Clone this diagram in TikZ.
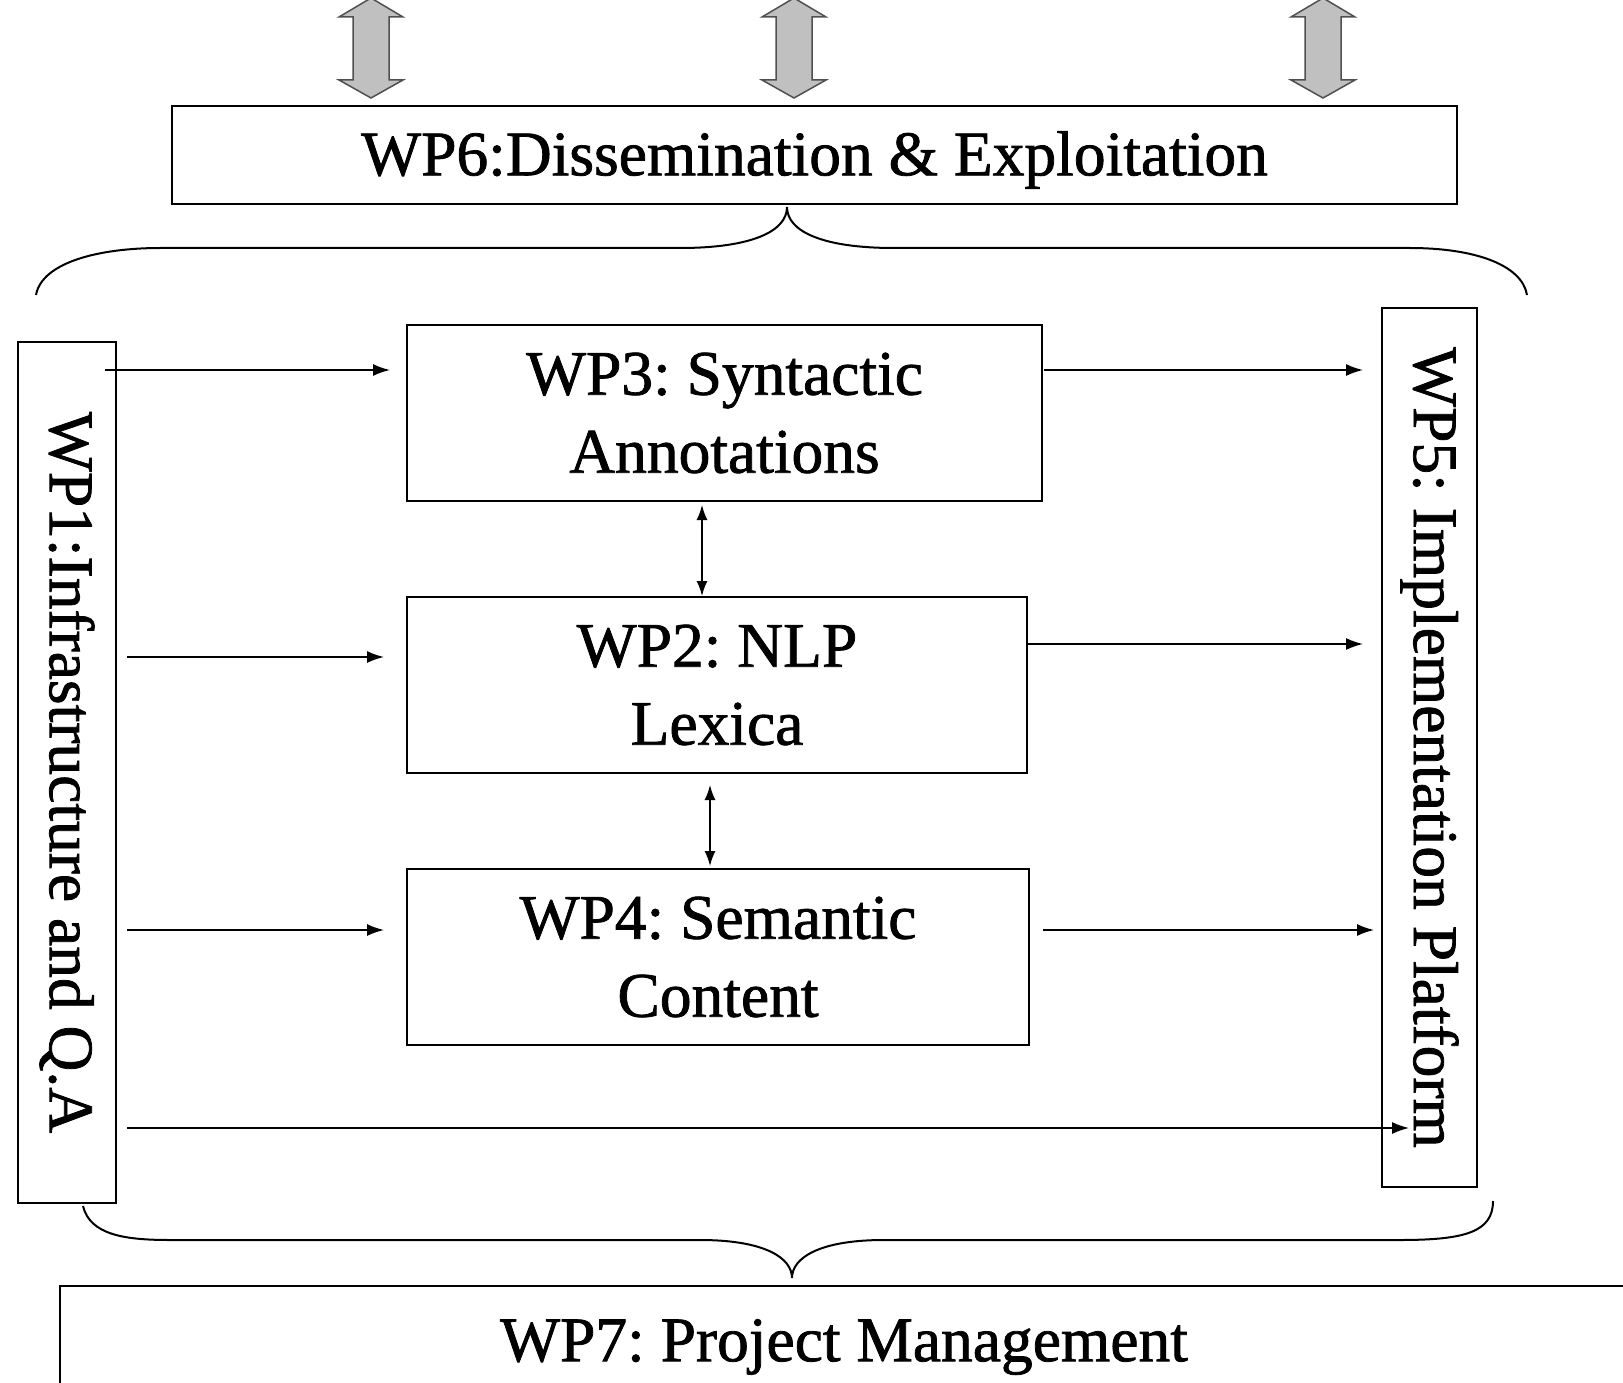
\documentclass[tikz,border=0pt]{standalone}
\usepackage{fontspec}
\setmainfont{Liberation Serif}
\newfontfamily\wpFace[FakeBold=1.2]{Liberation Serif}
\usetikzlibrary{arrows.meta}

\definecolor{arrowFill}{RGB}{192,192,192}
\definecolor{arrowEdge}{RGB}{80,80,80}

\newcommand{\boxThick }{2pt}
\newcommand{\linThick }{1.6pt}
\newcommand{\wpFont }{\wpFace\fontsize{63.5}{78}\selectfont\frenchspacing}

% Grey double arrow above WP6:
\newcommand{\dblArrow}[1]{%
  \draw[line width=1.5pt, arrowEdge, fill=arrowFill, line join=miter]
    (#1, -2) -- (#1+32, 17) -- (#1+18, 17) -- (#1+18, 80) -- (#1+32, 80)
    -- (#1, 98) -- (#1-32, 80) -- (#1-18, 80) -- (#1-18, 17) -- (#1-32, 17) -- cycle;}

\tikzset{
  wpbox/.style={draw, line width=\boxThick, inner sep=0pt, align=center, font=\wpFont},
  arr/.style={-{Latex[length=17pt,width=12pt]}, line width=\linThick},
  dblarr/.style={{Latex[length=15pt,width=11pt]}-{Latex[length=15pt,width=11pt]}, line width=\linThick},
  brace/.style={line width=\boxThick}
}

\begin{document}
\begin{tikzpicture}[x=1pt, y=-1pt]

  \useasboundingbox (0,0) rectangle (1623,1383);
  \clip (0,0) rectangle (1623,1383);
  \fill[white] (0,0) rectangle (1623,1383);

  % Top arrows:
  \dblArrow{371}
  \dblArrow{794}
  \dblArrow{1323}

  % Work packages:
  \node[wpbox, minimum width=1285pt, minimum height=98pt] (wp6) at (814.5, 155) {\raisebox{-5pt}[\height][\depth]{WP6:Dissemination \& Exploitation}};
  \node[wpbox, minimum width=635pt, minimum height=176pt] (wp3) at (724.5, 413) {WP3: Syntactic\\Annotations};
  \node[wpbox, minimum width=620pt, minimum height=176pt] (wp2) at (717, 685) {WP2: NLP\\Lexica};
  \node[wpbox, minimum width=622pt, minimum height=176pt] (wp4) at (718, 957) {WP4: Semantic\\Content};
  % (rotated: north is the right side, south the left side)
  \node[wpbox, rotate=-90, minimum width=861pt, minimum height=98pt] (wp1) at (67, 772.5) {WP1:Infrastructure and Q.A};
  \node[wpbox, rotate=-90, minimum width=879pt, minimum height=95pt] (wp5) at (1429.5, 747.5) {WP5: Implementation Platform};
  \node[wpbox, minimum width=1568pt, minimum height=122pt] (wp7) at (844, 1347) {WP7: Project Management};

  % Rows and columns:
  \coordinate (r1) at (0, 370);
  \coordinate (r2) at (0, 657);
  \coordinate (r2b) at (0, 644);
  \coordinate (r3) at (0, 930);
  \coordinate (r4) at (0, 1128);
  \coordinate (c1) at (702, 0);
  \coordinate (c2) at (710, 0);

  % Arrows from WP1:
  \draw[arr, shorten <=-12pt, shorten >=16pt] (wp1.north |- r1) -- (wp3.west |- r1);
  \draw[arr, shorten <=10pt, shorten >=22pt] (wp1.north |- r2) -- (wp2.west |- r2);
  \draw[arr, shorten <=10pt, shorten >=22pt] (wp1.north |- r3) -- (wp4.west |- r3);
  \draw[arr, shorten <=10pt, shorten >=-28pt] (wp1.north |- r4) -- (wp5.south |- r4);

  % Arrows to WP5:
  \draw[arr, shorten <=1pt, shorten >=18pt] (wp3.east |- r1) -- (wp5.south |- r1);
  \draw[arr, shorten >=18pt] (wp2.east |- r2b) -- (wp5.south |- r2b);
  \draw[arr, shorten <=13pt, shorten >=7pt] (wp4.east |- r3) -- (wp5.south |- r3);

  % Between WP3, WP2 and WP4:
  \draw[dblarr, shorten <=3pt] (wp3.south -| c1) -- (wp2.north -| c1);
  \draw[dblarr, shorten <=11pt, shorten >=2pt] (wp2.south -| c2) -- (wp4.north -| c2);

  % Braces:
  \draw[brace] (36, 295) .. controls (42, 262) and (100, 248) .. (160, 248) -- (680, 248)
    .. controls (750, 248) and (787, 232) .. (787, 207)
    .. controls (787, 232) and (824, 248) .. (894, 248) -- (1410, 248)
    .. controls (1475, 248) and (1522, 265) .. (1527, 295);
  \draw[brace] (83, 1206) .. controls (90, 1235) and (125, 1240) .. (170, 1240) -- (700, 1240)
    .. controls (765, 1240) and (792, 1258) .. (792, 1278)
    .. controls (792, 1258) and (819, 1240) .. (884, 1240) -- (1400, 1240)
    .. controls (1465, 1240) and (1493, 1232) .. (1493, 1201);

\end{tikzpicture}
\end{document}
